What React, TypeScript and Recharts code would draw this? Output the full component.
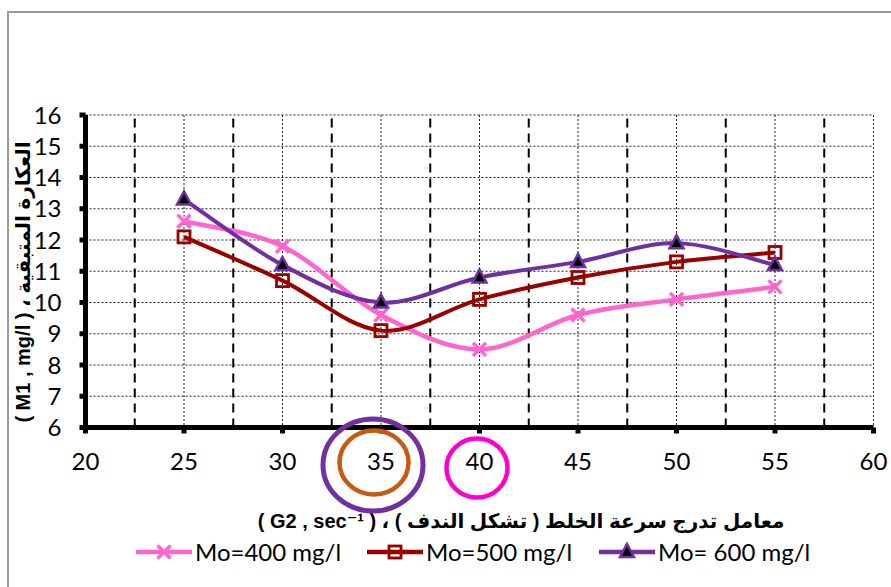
import React from 'react';
import { LineChart, Line, XAxis, YAxis, CartesianGrid, ReferenceLine, Legend, Label } from 'recharts';

// ---- data ----
const xValues = [25, 30, 35, 40, 45, 50, 55];
const mo400 = [12.6, 11.8, 9.6, 8.5, 9.6, 10.1, 10.5];
const mo500 = [12.1, 10.7, 9.1, 10.1, 10.8, 11.3, 11.6];
const mo600 = [13.3, 11.2, 10.0, 10.8, 11.3, 11.9, 11.2];
const seriesNames = ['Mo=400 mg/l', 'Mo=500 mg/l', 'Mo= 600 mg/l'];
const xTicks = [20, 25, 30, 35, 40, 45, 50, 55, 60];
const yTicks = [6, 7, 8, 9, 10, 11, 12, 13, 14, 15, 16];
const dashedGridX = [22.5, 27.5, 32.5, 37.5, 42.5, 47.5, 52.5, 57.5];
const xTitle = 'معامل تدرج سرعة الخلط ( تشكل الندف ) ، ( G2 , sec⁻¹ )';
const yTitle = 'العكارة المتبقية ، ( M1 , mg/l )';

const data = xValues.map((x, i) => ({ x, a: mo400[i], b: mo500[i], c: mo600[i] }));

const PINK = '#FF66CC';
const RED = '#990000';
const PURPLE = '#7030A0';
const FONT = 'Lato, "Open Sans", sans-serif';
const TITLE_FONT = '"Liberation Sans", "DejaVu Sans", sans-serif';

// Excel-like smoothed line (Catmull-Rom as cubic Bezier)
function excelSmooth(context: any) {
  let pts: number[][] = [];
  return {
    areaStart() {},
    areaEnd() {},
    lineStart() {
      pts = [];
    },
    point(x: number, y: number) {
      pts.push([+x, +y]);
    },
    lineEnd() {
      const n = pts.length;
      if (!n) return;
      context.moveTo(pts[0][0], pts[0][1]);
      for (let i = 0; i < n - 1; i++) {
        const p0 = pts[Math.max(i - 1, 0)];
        const p1 = pts[i];
        const p2 = pts[i + 1];
        const p3 = pts[Math.min(i + 2, n - 1)];
        context.bezierCurveTo(
          p1[0] + (p2[0] - p0[0]) / 6,
          p1[1] + (p2[1] - p0[1]) / 6,
          p2[0] - (p3[0] - p1[0]) / 6,
          p2[1] - (p3[1] - p1[1]) / 6,
          p2[0],
          p2[1]
        );
      }
    },
  };
}

const XMark = ({ cx, cy }: { cx: number; cy: number }) => (
  <g>
    <line x1={cx - 6.5} y1={cy - 6.5} x2={cx + 6.5} y2={cy + 6.5} stroke={PINK} strokeWidth={3.5} />
    <line x1={cx - 6.5} y1={cy + 6.5} x2={cx + 6.5} y2={cy - 6.5} stroke={PINK} strokeWidth={3.5} />
  </g>
);
const SquareMark = ({ cx, cy }: { cx: number; cy: number }) => (
  <rect x={cx - 6} y={cy - 6} width={12} height={12} fill="none" stroke={RED} strokeWidth={2.8} />
);
const TriMark = ({ cx, cy }: { cx: number; cy: number }) => (
  <polygon
    points={`${cx},${cy - 8} ${cx + 7},${cy + 5} ${cx - 7},${cy + 5}`}
    fill="#000"
    stroke={PURPLE}
    strokeWidth={2.5}
    strokeLinejoin="miter"
  />
);

const dotX = (p: any) => <XMark key={`xa-${p.index}`} cx={p.cx} cy={p.cy} />;
const dotS = (p: any) => <SquareMark key={`sb-${p.index}`} cx={p.cx} cy={p.cy} />;
const dotT = (p: any) => <TriMark key={`tc-${p.index}`} cx={p.cx} cy={p.cy} />;

const XTick = (props: any) => {
  const { x, y, payload } = props;
  const v = payload.value;
  return (
    <g>
      {v === 35 && (
        <g>
          <ellipse cx={x - 8} cy={y + 31.5} rx={50} ry={46} fill="none" stroke={PURPLE} strokeWidth={5} />
          <ellipse cx={x - 7} cy={y + 29} rx={34.5} ry={32} fill="none" stroke="#C55A11" strokeWidth={4.5} />
        </g>
      )}
      {v === 40 && (
        <ellipse cx={x - 2.5} cy={y + 34.5} rx={30.5} ry={29.5} fill="none" stroke="#FF00CC" strokeWidth={4.5} />
      )}
      <text x={x} y={y + 36} textAnchor="middle" fontSize={24} fontFamily={FONT} fill="#000">
        {v}
      </text>
    </g>
  );
};

const legendItems = [
  { name: seriesNames[0], color: PINK, left: 136, mark: 'x' },
  { name: seriesNames[1], color: RED, left: 367, mark: 's' },
  { name: seriesNames[2], color: PURPLE, left: 599, mark: 't' },
];

const LegendContent = () => (
  <div style={{ position: 'relative', height: 0 }}>
    {legendItems.map((it) => (
      <div
        key={it.name}
        style={{
          position: 'absolute',
          left: it.left,
          top: 537,
          height: 30,
          display: 'flex',
          alignItems: 'center',
          whiteSpace: 'nowrap',
        }}
      >
        <svg width={56} height={30} style={{ display: 'block' }}>
          <line x1={0} y1={15} x2={56} y2={15} stroke={it.color} strokeWidth={4.5} />
          {it.mark === 'x' && <XMark cx={28} cy={15} />}
          {it.mark === 's' && <SquareMark cx={28} cy={15} />}
          {it.mark === 't' && <TriMark cx={28} cy={15} />}
        </svg>
        <span style={{ fontFamily: FONT, fontSize: 24, color: '#000', marginLeft: 3, lineHeight: '30px' }}>
          {it.name}
        </span>
      </div>
    ))}
  </div>
);

export default function App() {
  return (
    <div
      style={{
        position: 'absolute',
        left: 0,
        top: 0,
        width: 891,
        height: 587,
        overflow: 'hidden',
        background: '#fff',
      }}
    >
      <div
        style={{
          position: 'absolute',
          left: 7,
          top: 11,
          width: 950,
          height: 650,
          borderLeft: '2px solid #999',
          borderTop: '2px solid #999',
        }}
      />
      <LineChart
        width={891}
        height={587}
        data={data}
        margin={{ top: 115, right: 17.5, bottom: 129.5, left: 25.5 }}
      >
        <CartesianGrid stroke="#222" strokeWidth={1} strokeDasharray="2 2" />
        {dashedGridX.map((v) => (
          <ReferenceLine key={v} x={v} stroke="#000" strokeWidth={2} strokeDasharray="9 6" />
        ))}
        <XAxis
          dataKey="x"
          type="number"
          domain={[20, 60]}
          ticks={xTicks}
          interval={0}
          height={30}
          axisLine={{ stroke: '#000', strokeWidth: 5 }}
          tickLine={{ stroke: '#000', strokeWidth: 5 }}
          tickSize={6}
          tickMargin={0}
          tick={<XTick />}
        >
          <Label
            content={() => (
              <text
                x={521}
                y={521}
                textAnchor="middle"
                dominantBaseline="central"
                direction="rtl"
                fontSize={20}
                fontWeight="bold"
                fontFamily={TITLE_FONT}
                fill="#000"
              >
                {xTitle}
              </text>
            )}
          />
        </XAxis>
        <YAxis
          type="number"
          domain={[6, 16]}
          ticks={yTicks}
          interval={0}
          width={60}
          axisLine={{ stroke: '#000', strokeWidth: 5 }}
          tickLine={{ stroke: '#000', strokeWidth: 5 }}
          tickSize={6}
          tickMargin={18}
          tick={{ fontSize: 24, fill: '#000', fontFamily: FONT }}
        >
          <Label
            content={() => (
              <text
                x={0}
                y={0}
                transform="translate(23,282) rotate(-90)"
                textAnchor="middle"
                dominantBaseline="central"
                direction="rtl"
                fontSize={20}
                fontWeight="bold"
                fontFamily={TITLE_FONT}
                fill="#000"
              >
                {yTitle}
              </text>
            )}
          />
        </YAxis>
        <Legend content={<LegendContent />} wrapperStyle={{ left: 0, top: 0, width: 891, height: 0 }} />
        <Line
          dataKey="a"
          name={seriesNames[0]}
          stroke={PINK}
          strokeWidth={4.5}
          type={excelSmooth as any}
          dot={dotX}
          activeDot={false}
          isAnimationActive={false}
        />
        <Line
          dataKey="b"
          name={seriesNames[1]}
          stroke={RED}
          strokeWidth={4}
          type={excelSmooth as any}
          dot={dotS}
          activeDot={false}
          isAnimationActive={false}
        />
        <Line
          dataKey="c"
          name={seriesNames[2]}
          stroke={PURPLE}
          strokeWidth={4}
          type={excelSmooth as any}
          dot={dotT}
          activeDot={false}
          isAnimationActive={false}
        />
      </LineChart>
    </div>
  );
}
